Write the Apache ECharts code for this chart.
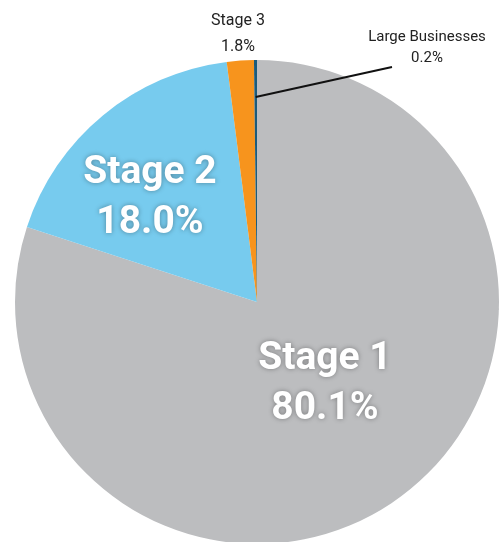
<!DOCTYPE html>
<html>
<head>
<meta charset="utf-8">
<script src="https://cdn.jsdelivr.net/npm/echarts@6/dist/echarts.min.js"></script>
<style>
html,body{margin:0;padding:0;background:#fff;}
#chart{width:499px;height:542px;}
</style>
</head>
<body>
<div id="chart"></div>
<script>
var categories = ['Stage 1', 'Stage 2', 'Stage 3', 'Large Businesses'];
var values = [80.1, 18.0, 1.8, 0.2];
var valueLabels = ['80.1%', '18.0%', '1.8%', '0.2%'];
var colors = ['#BCBDBF', '#77CBEE', '#F7941D', '#1B5B7B'];

var chart = echarts.init(document.getElementById('chart'));

var mainData = categories.map(function (c, i) {
  var d = { name: c, value: values[i], itemStyle: { color: colors[i] } };
  if (i < 2) {
    d.label = { show: true, position: 'inside', formatter: c + '\n' + valueLabels[i],
      color: '#fff', fontFamily: 'Roboto', fontWeight: 'bold', fontSize: 39, lineHeight: 50,
      textShadowColor: 'rgba(0,0,0,0.35)', textShadowBlur: 5 };
  } else if (i === 2) {
    d.label = { show: true, position: 'outside', formatter: c + '\n' + valueLabels[i],
      color: '#222', fontFamily: 'Roboto', fontSize: 16, lineHeight: 26, align: 'center',
      overflow: 'none' };
    d.labelLine = { show: false };
  } else {
    d.label = { show: true, position: 'outside', formatter: c + '\n' + valueLabels[i],
      color: '#222', fontFamily: 'Roboto', fontSize: 15, lineHeight: 21, align: 'center',
      overflow: 'none' };
    d.labelLine = { show: false };
  }
  return d;
});

// overlay (transparent) series used only to anchor the leader line of the smallest slice
var overlayData = categories.map(function (c, i) {
  var d = { name: c, value: values[i], itemStyle: { color: 'rgba(0,0,0,0)' } };
  if (i === 3) {
    d.label = { show: true, position: 'outside', formatter: ' ', fontSize: 1, lineHeight: 1,
      overflow: 'none' };
    d.labelLine = { show: true, length2: 0, lineStyle: { color: '#111', width: 2 } };
  } else {
    d.label = { show: false };
    d.labelLine = { show: false };
  }
  return d;
});

var mainLabelPos = [[325, 384], [150, 198], [238, 34], [427, 48]];

chart.setOption({
  animation: false,
  series: [
    {
      type: 'pie',
      center: [257, 302],
      radius: [0, 242],
      startAngle: 90,
      clockwise: true,
      silent: true,
      data: mainData,
      labelLayout: function (p) {
        var pos = mainLabelPos[p.dataIndex];
        if (!pos) return {};
        return { x: pos[0], y: pos[1], align: 'center', verticalAlign: 'middle' };
      }
    },
    {
      type: 'pie',
      center: [257, 302],
      radius: [0, 205],
      startAngle: 90,
      clockwise: true,
      silent: true,
      z: 3,
      data: overlayData,
      labelLayout: function (p) {
        if (p.dataIndex !== 3) return {};
        return { x: 392, y: 67, align: 'left', verticalAlign: 'middle' };
      }
    }
  ]
});
</script>
</body>
</html>
